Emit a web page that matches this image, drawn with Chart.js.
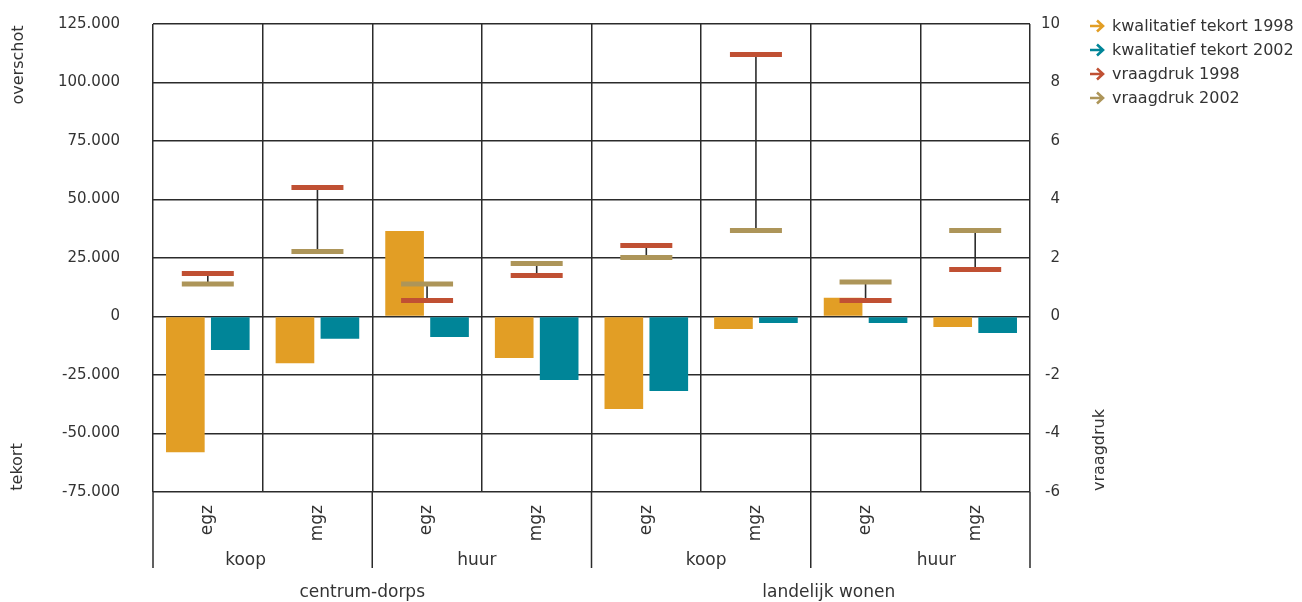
<!DOCTYPE html>
<html>
<head>
<meta charset="utf-8">
<script src="https://cdn.jsdelivr.net/npm/chart.js@4"></script>
<style>
  html, body { margin: 0; padding: 0; background: #fff; }
  #wrap { width: 1302px; height: 602px; }
</style>
</head>
<body>
<div id="wrap"><canvas id="myChart"></canvas></div>
<script>
const categories = ['egz', 'mgz', 'egz', 'mgz', 'egz', 'mgz', 'egz', 'mgz'];
const tenures = ['koop', 'huur', 'koop', 'huur'];
const regions = ['centrum-dorps', 'landelijk wonen'];

const tekort1998 = [-58000, -20000, 36500, -17700, -39500, -5300, 8000, -4500];
const tekort2002 = [-14300, -9500, -8800, -27100, -31800, -2800, -2800, -7000];
const vraagdruk1998 = [1.47, 4.41, 0.55, 1.40, 2.43, 8.96, 0.55, 1.61];
const vraagdruk2002 = [1.11, 2.22, 1.11, 1.81, 2.02, 2.94, 1.18, 2.94];

const leftTicks = [-75000, -50000, -25000, 0, 25000, 50000, 75000, 100000, 125000];
const rightTicks = [-6, -4, -2, 0, 2, 4, 6, 8, 10];

const FONT = 'DejaVu Sans';
const TEXT = '#333333';
const GRID = '#2b2b2b';

function fmtThousands(v) {
    if (v === 0) return '0';
    const s = Math.abs(v).toString().replace(/\B(?=(\d{3})+(?!\d))/g, '.');
    return (v < 0 ? '-' : '') + s;
}

// boundary between category k-1 and k on the x scale
function boundary(xs, k, n) {
    if (k === 0) return xs.left;
    if (k === n) return xs.right;
    return (xs.getPixelForValue(k - 1) + xs.getPixelForValue(k)) / 2;
}

// fixed axis sizes, no extra label overhang
function fixSize(w, h) {
    return s => {
        if (w) s.width = w;
        if (h) s.height = h;
        s.paddingTop = 0;
        s.paddingBottom = 0;
    };
}

const connectors = {
    id: 'connectors',
    beforeDatasetDraw(chart, args) {
        if (args.index !== 3) return;
        const xs = chart.scales.x, y2 = chart.scales.y2, ctx = chart.ctx;
        ctx.save();
        ctx.strokeStyle = '#2b2b2b';
        ctx.lineWidth = 1.6;
        vraagdruk1998.forEach((v, i) => {
            const x = xs.getPixelForValue(i);
            ctx.beginPath();
            ctx.moveTo(x, y2.getPixelForValue(v));
            ctx.lineTo(x, y2.getPixelForValue(vraagdruk2002[i]));
            ctx.stroke();
        });
        ctx.restore();
    }
};

const extras = {
    id: 'extras',
    afterDraw(chart) {
        const ctx = chart.ctx, xs = chart.scales.x, area = chart.chartArea;
        const n = categories.length;
        ctx.save();

        // group separators below the plot
        ctx.strokeStyle = GRID;
        ctx.lineWidth = 1.5;
        for (let k = 0; k <= n; k += 2) {
            const x = boundary(xs, k, n);
            ctx.beginPath();
            ctx.moveTo(x, area.bottom);
            ctx.lineTo(x, area.bottom + 76);
            ctx.stroke();
        }

        ctx.fillStyle = TEXT;
        ctx.textAlign = 'center';
        ctx.textBaseline = 'middle';
        ctx.font = '17px "' + FONT + '"';
        const tenureShift = [-17, -5, 5, 16];
        tenures.forEach((t, g) => {
            const c = (boundary(xs, g * 2, n) + boundary(xs, g * 2 + 2, n)) / 2;
            ctx.fillText(t, c + tenureShift[g], area.bottom + 69);
        });
        const regionShift = [-10, 18];
        regions.forEach((r, g) => {
            const c = (boundary(xs, g * 4, n) + boundary(xs, g * 4 + 4, n)) / 2;
            ctx.fillText(r, c + regionShift[g], area.bottom + 101);
        });

        // axis titles
        ctx.font = '16px "' + FONT + '"';
        const vText = (txt, x, y) => {
            ctx.save();
            ctx.translate(x, y);
            ctx.rotate(-Math.PI / 2);
            ctx.fillText(txt, 0, 0);
            ctx.restore();
        };
        vText('overschot', 19, 65);
        vText('tekort', 18, 467);
        vText('vraagdruk', 1100, 450);

        // legend with arrows
        ctx.textAlign = 'left';
        chart.data.datasets.forEach((ds, i) => {
            const y = 26 + i * 24;
            const col = ds.type === 'bar' ? ds.backgroundColor : ds.borderColor;
            ctx.strokeStyle = col;
            ctx.lineWidth = 2.6;
            ctx.beginPath();
            ctx.moveTo(1090, y);
            ctx.lineTo(1103, y);
            ctx.moveTo(1097, y - 5.5);
            ctx.lineTo(1103, y);
            ctx.lineTo(1097, y + 5.5);
            ctx.stroke();
            ctx.fillStyle = TEXT;
            ctx.fillText(ds.label, 1112, y + 1);
        });
        ctx.restore();
    }
};

const ctx = document.getElementById('myChart').getContext('2d');
new Chart(ctx, {
    data: {
        labels: categories,
        datasets: [
            {
                type: 'bar',
                label: 'kwalitatief tekort 1998',
                data: tekort1998,
                backgroundColor: '#E29E25',
                yAxisID: 'y',
                order: 2,
                categoryPercentage: 0.82,
                barPercentage: 0.86
            },
            {
                type: 'bar',
                label: 'kwalitatief tekort 2002',
                data: tekort2002,
                backgroundColor: '#008598',
                yAxisID: 'y',
                order: 2,
                categoryPercentage: 0.82,
                barPercentage: 0.86
            },
            {
                type: 'line',
                label: 'vraagdruk 1998',
                data: vraagdruk1998,
                yAxisID: 'y2',
                showLine: false,
                borderColor: '#C05033',
                pointStyle: 'line',
                pointRadius: 26,
                pointHoverRadius: 26,
                pointBorderWidth: 5,
                pointBorderColor: '#C05033',
                order: 0
            },
            {
                type: 'line',
                label: 'vraagdruk 2002',
                data: vraagdruk2002,
                yAxisID: 'y2',
                showLine: false,
                borderColor: '#AD9559',
                pointStyle: 'line',
                pointRadius: 26,
                pointHoverRadius: 26,
                pointBorderWidth: 5,
                pointBorderColor: '#AD9559',
                order: 0
            }
        ]
    },
    options: {
        responsive: true,
        maintainAspectRatio: false,
        animation: false,
        layout: { autoPadding: false, padding: { top: 24, right: 242, left: 0, bottom: 0 } },
        plugins: {
            legend: { display: false },
            tooltip: { enabled: false }
        },
        scales: {
            x: {
                offset: true,
                border: { display: false },
                grid: { offset: true, color: GRID, lineWidth: 1.5, drawTicks: false },
                ticks: {
                    minRotation: 90,
                    maxRotation: 90,
                    padding: 13,
                    color: TEXT,
                    font: { family: FONT, size: 17 }
                },
                afterFit: fixSize(0, 110)
            },
            y: {
                position: 'left',
                min: -75000,
                max: 125000,
                border: { display: false },
                grid: { color: GRID, lineWidth: 1.5, drawTicks: false },
                afterBuildTicks: s => { s.ticks = leftTicks.map(v => ({ value: v })); },
                ticks: {
                    padding: 33,
                    color: TEXT,
                    font: { family: FONT, size: 15 },
                    callback: v => fmtThousands(v)
                },
                afterFit: fixSize(153, 0)
            },
            y2: {
                position: 'right',
                min: -6,
                max: 10,
                border: { display: false },
                grid: { display: false, drawTicks: false },
                afterBuildTicks: s => { s.ticks = rightTicks.map(v => ({ value: v })); },
                ticks: {
                    padding: 12,
                    crossAlign: 'far',
                    color: TEXT,
                    font: { family: FONT, size: 15 }
                },
                afterFit: fixSize(30, 0)
            }
        }
    },
    plugins: [connectors, extras]
});
</script>
</body>
</html>
